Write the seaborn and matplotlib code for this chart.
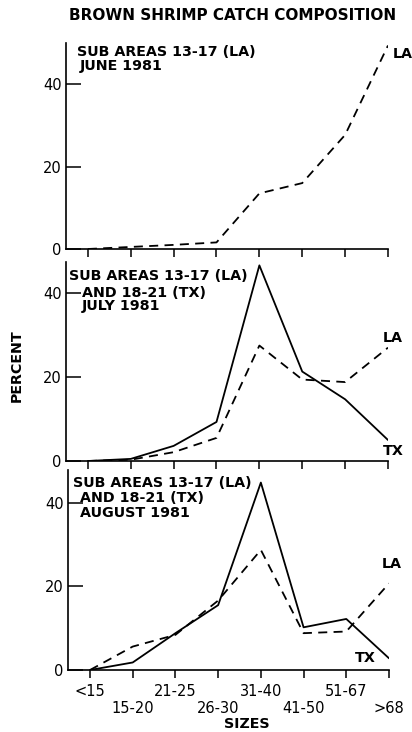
import matplotlib
matplotlib.use("Agg")
import matplotlib.pyplot as plt
import seaborn as sns
import pandas as pd

sizes = ["<15", "15-20", "21-25", "26-30", "31-40", "41-50", "51-67", ">68"]
june_la = [0.0, 0.5, 1.0, 1.6, 13.5, 16.0, 27.7, 49.4]
july_la = [0.0, 0.3, 2.1, 5.5, 27.5, 19.4, 18.8, 27.0]
july_tx = [0.0, 0.5, 3.6, 9.3, 46.6, 21.3, 14.7, 5.0]
aug_la = [0.0, 5.6, 8.4, 16.6, 28.7, 8.8, 9.2, 20.7]
aug_tx = [0.0, 1.8, 8.8, 15.5, 44.8, 10.2, 12.2, 2.8]
yticks = [0, 20, 40]

sns.set_style("ticks")
plt.rcParams['font.family'] = ['DejaVu Sans']
plt.rcParams['font.size'] = 10

fig = plt.figure(figsize=(4.12, 7.32), dpi=100)
W, H = 412.0, 732.0

def ax_at(x0, y0, x1, y1):
    return fig.add_axes([x0 / W, 1 - y1 / H, (x1 - x0) / W, (y1 - y0) / H])

ax1 = ax_at(66, 43, 388, 249)
ax2 = ax_at(66, 262, 388, 461)
ax3 = ax_at(68, 470, 389, 670)

dash = (0, (5, 3.5))
lw = 1.3

def draw(ax, series, ylim, xleft):
    for vals, ls in series:
        df = pd.DataFrame({"x": list(range(len(sizes))), "y": vals})
        sns.lineplot(data=df, x="x", y="y", ax=ax, color="black", lw=lw,
                     linestyle="-", estimator=None)
        ax.lines[-1].set_linestyle(ls)
    ax.set_xlim(xleft, 7)
    ax.set_ylim(*ylim)
    ax.set_xlabel("")
    ax.set_ylabel("")
    ax.set_yticks(yticks)
    ax.set_xticks(range(len(sizes)))
    ax.tick_params(axis="y", direction="in", length=11, width=1.1, pad=3, labelsize=10.5, colors="black")
    ax.tick_params(axis="x", direction="out", length=6, width=1.1, labelsize=10.5, colors="black")
    sns.despine(ax=ax)
    for s in ("left", "bottom"):
        ax.spines[s].set_linewidth(1.2)
        ax.spines[s].set_color("black")
    ax.patch.set_alpha(0)

draw(ax1, [(june_la, dash)], (0, 50), -0.51)
draw(ax2, [(july_tx, "-"), (july_la, dash)], (0, 47.4), -0.51)
draw(ax3, [(aug_tx, "-"), (aug_la, dash)], (0, 47.8), -0.515)

ax1.set_xticklabels([])
ax2.set_xticklabels([])
ax3.set_xticklabels([s if i % 2 == 0 else "\n" + s for i, s in enumerate(sizes)],
                    linespacing=1.15)
ax3.tick_params(axis="x", pad=4)

def ftext(x, y, s, **kw):
    fig.text(x / W, 1 - y / H, s, va="center", color="black", **kw)

fs = 10.3
fw = "bold"
ftext(233, 15, "BROWN SHRIMP CATCH COMPOSITION", ha="center", fontsize=11, fontweight=fw)
ftext(77, 52, "SUB AREAS 13-17 (LA)", ha="left", fontsize=fs, fontweight=fw)
ftext(80, 66, "JUNE 1981", ha="left", fontsize=fs, fontweight=fw)
ftext(393, 54, "LA", ha="left", fontsize=fs, fontweight=fw)

ftext(69, 276, "SUB AREAS 13-17 (LA)", ha="left", fontsize=fs, fontweight=fw)
ftext(82, 293, "AND 18-21 (TX)", ha="left", fontsize=fs, fontweight=fw)
ftext(82, 306, "JULY 1981", ha="left", fontsize=fs, fontweight=fw)
ftext(383, 338, "LA", ha="left", fontsize=fs, fontweight=fw)
ftext(383, 451, "TX", ha="left", fontsize=fs, fontweight=fw)

ftext(73, 483, "SUB AREAS 13-17 (LA)", ha="left", fontsize=fs, fontweight=fw)
ftext(80, 498, "AND 18-21 (TX)", ha="left", fontsize=fs, fontweight=fw)
ftext(80, 513, "AUGUST 1981", ha="left", fontsize=fs, fontweight=fw)
ftext(382, 564, "LA", ha="left", fontsize=fs, fontweight=fw)
ftext(355, 658, "TX", ha="left", fontsize=fs, fontweight=fw)

ftext(17, 366, "PERCENT", ha="center", rotation=90, fontsize=fs, fontweight=fw)
ftext(247, 724, "SIZES", ha="center", fontsize=fs, fontweight=fw)

fig.savefig("out.png", dpi=100, facecolor="white")
